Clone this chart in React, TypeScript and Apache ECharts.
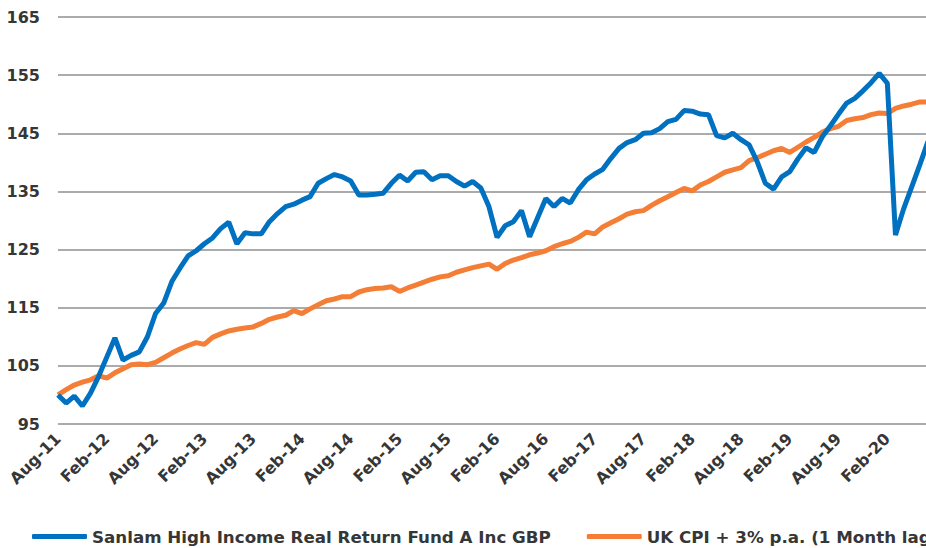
import React, { useEffect, useRef } from "react";
import * as echarts from "echarts";

const START_YEAR = 2011;
const START_MONTH = 7; // August
const MONTH_NAMES = ["Jan", "Feb", "Mar", "Apr", "May", "Jun", "Jul", "Aug", "Sep", "Oct", "Nov", "Dec"];

const fundName = "Sanlam High Income Real Return Fund A Inc GBP";
const cpiName = "UK CPI + 3% p.a. (1 Month lag)";

const fundValues = [
  100.0, 98.6, 99.8, 98.1, 100.3, 103.2, 106.5, 109.8, 106.0, 106.8,
  107.4, 110.0, 114.0, 115.8, 119.5, 121.8, 123.9, 124.8, 126.0, 127.0,
  128.6, 129.7, 126.0, 127.9, 127.7, 127.7, 129.8, 131.2, 132.4, 132.8,
  133.5, 134.1, 136.4, 137.2, 137.9, 137.5, 136.8, 134.4, 134.4, 134.5,
  134.7, 136.4, 137.8, 136.8, 138.3, 138.4, 137.0, 137.7, 137.7, 136.7,
  135.9, 136.7, 135.6, 132.4, 127.1, 129.1, 129.8, 131.7, 127.2, 130.5,
  133.8, 132.4, 133.8, 133.0, 135.3, 137.0, 138.0, 138.8, 140.7, 142.4,
  143.4, 143.9, 145.0, 145.1, 145.8, 147.0, 147.4, 148.9, 148.8, 148.3,
  148.2, 144.6, 144.2, 145.0, 143.9, 143.0, 140.1, 136.4, 135.4, 137.5,
  138.4, 140.6, 142.5, 141.7, 144.4, 146.3, 148.3, 150.2, 151.0, 152.3,
  153.7, 155.3, 153.6, 127.5, 132.0, 135.8, 139.6, 143.6,
];

const cpiValues = [
  100.0, 100.9, 101.7, 102.2, 102.6, 103.3, 102.9, 103.8, 104.5, 105.2,
  105.3, 105.2, 105.6, 106.4, 107.2, 107.9, 108.5, 109.0, 108.7, 109.9,
  110.5, 111.0, 111.3, 111.5, 111.7, 112.3, 113.0, 113.4, 113.7, 114.5,
  114.0, 114.8, 115.5, 116.2, 116.5, 116.9, 116.9, 117.7, 118.1, 118.3,
  118.4, 118.6, 117.8, 118.4, 118.9, 119.4, 119.9, 120.3, 120.5, 121.1,
  121.5, 121.9, 122.2, 122.5, 121.6, 122.6, 123.2, 123.6, 124.1, 124.4,
  124.8, 125.5, 126.0, 126.4, 127.1, 128.0, 127.7, 128.9, 129.6, 130.3,
  131.1, 131.5, 131.7, 132.6, 133.4, 134.1, 134.8, 135.5, 135.1, 136.1,
  136.7, 137.5, 138.3, 138.7, 139.1, 140.3, 140.8, 141.4, 142.0, 142.4,
  141.7, 142.6, 143.5, 144.3, 145.2, 145.8, 146.2, 147.2, 147.5, 147.7,
  148.2, 148.5, 148.4, 149.3, 149.7, 150.0, 150.4, 150.4,
];

const categories = fundValues.map((_, i) => {
  const m = (START_MONTH + i) % 12;
  const y = START_YEAR + Math.floor((START_MONTH + i) / 12);
  return `${MONTH_NAMES[m]}-${String(y % 100).padStart(2, "0")}`;
});

const Y_MIN = 95;
const Y_MAX = 165;
const Y_STEP = 10;

const FONT = "DejaVu Sans";
const TEXT_COLOR = "#363636";
const GRID_COLOR = "#ababab";
const BLUE = "#0070C0";
const ORANGE = "#F47E35";

// The reference is a crop of a wider chart: draw it wider and clip to the view.
const VIEW_W = 926;
const VIEW_H = 548;
const CHART_W = 1100;

export default function App() {
  const ref = useRef<HTMLDivElement>(null);

  useEffect(() => {
    if (!ref.current) return;
    const chart = echarts.init(ref.current, null, { renderer: "svg" });
    chart.setOption({
      animation: false,
      backgroundColor: "#ffffff",
      grid: { left: 58, right: CHART_W - 928, top: 17, bottom: 124, containLabel: false },
      legend: {
        left: 27,
        top: 523,
        icon: "roundRect",
        itemWidth: 55,
        itemHeight: 5,
        itemGap: 36,
        textStyle: { fontFamily: FONT, fontWeight: "bold", fontSize: 16.7, color: TEXT_COLOR },
        data: [fundName, cpiName],
      },
      xAxis: {
        type: "category",
        data: categories,
        boundaryGap: false,
        axisLine: { show: false },
        axisTick: { show: false },
        axisLabel: {
          interval: 5,
          rotate: 45,
          margin: 12,
          fontFamily: FONT,
          fontWeight: "bold",
          fontSize: 16,
          color: TEXT_COLOR,
        },
        splitLine: { show: false },
      },
      yAxis: {
        type: "value",
        min: Y_MIN,
        max: Y_MAX,
        interval: Y_STEP,
        axisLine: { show: false },
        axisTick: { show: false },
        axisLabel: {
          margin: 18,
          fontFamily: FONT,
          fontWeight: "bold",
          fontSize: 16,
          color: TEXT_COLOR,
        },
        splitLine: { lineStyle: { color: GRID_COLOR, width: 2 } },
      },
      series: [
        {
          name: fundName,
          type: "line",
          data: fundValues,
          showSymbol: false,
          symbol: "none",
          lineStyle: { color: BLUE, width: 5 },
          itemStyle: { color: BLUE },
          z: 3,
        },
        {
          name: cpiName,
          type: "line",
          data: cpiValues,
          showSymbol: false,
          symbol: "none",
          lineStyle: { color: ORANGE, width: 5 },
          itemStyle: { color: ORANGE },
          z: 2,
        },
      ],
    });
    return () => chart.dispose();
  }, []);

  return (
    <div
      style={{
        position: "fixed",
        left: 0,
        top: 0,
        width: VIEW_W,
        height: VIEW_H,
        overflow: "hidden",
        background: "#fff",
      }}
    >
      <div ref={ref} style={{ width: CHART_W, height: VIEW_H }} />
    </div>
  );
}
